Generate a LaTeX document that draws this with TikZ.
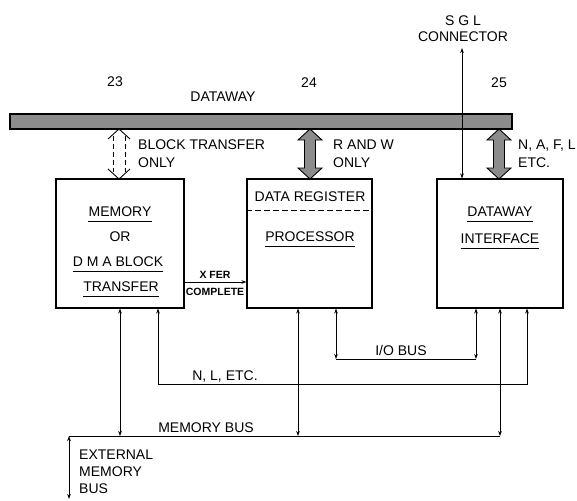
\documentclass[tikz,border=0pt]{standalone}
\usepackage{fontspec}
\setmainfont{Liberation Sans}
\usetikzlibrary{arrows.meta,calc}
\newcommand\ulnode[1]{\draw[line width=0.8pt] ([yshift=-4.5pt]#1.base west) -- ([yshift=-4.5pt]#1.base east);}
\newcommand\fatarr[2]{\draw[#2] (#1,129) -- ++(12,11) -- ++(-6.5,0) -- ++(0,28) -- ++(6.5,0) -- (#1,179) -- ++(-12,-11) -- ++(6.5,0) -- ++(0,-28) -- ++(-6.5,0) -- cycle;}
\newcommand\dasharr[1]{%
  \draw[line width=0.9pt] (#1-11,139) -- (#1,129) -- (#1+11,139);
  \draw[line width=0.9pt] (#1-11,169) -- (#1,179) -- (#1+11,169);
  \draw[line width=0.9pt, dash pattern=on 5pt off 3pt] (#1-6,136) -- (#1-6,172);
  \draw[line width=0.9pt, dash pattern=on 5pt off 3pt] (#1+6,136) -- (#1+6,172);}
\begin{document}
\begin{tikzpicture}[x=1pt,y=-1pt,
  font=\fontsize{14}{16}\selectfont,
  >={Stealth[length=5pt,width=3.6pt]},
  box/.style={draw, line width=1.1pt, inner sep=0, minimum height=129pt},
  lbl/.style={inner sep=0},
  conn/.style={line width=0.8pt},
  fatfill/.style={draw, line width=0.9pt, fill=black!45}]
\useasboundingbox (0,0) rectangle (577,500);

% dataway bar
\node[draw, line width=1.4pt, fill=black!45, minimum width=502pt, minimum height=15pt, inner sep=0] (bar) at (261,121.5) {};

% boxes
\node[box, minimum width=128pt] (mem) at (120,243.5) {};
\node[box, minimum width=125pt] (proc) at (309.5,243.5) {};
\node[box, minimum width=126pt] (iface) at (500,243.5) {};

% top labels
\node[lbl] (n23) at (115,82) {23};
\node[lbl] (n24) at (309,83) {24};
\node[lbl] (n25) at (499,83) {25};
\node[lbl] (dw) at (223,97) {DATAWAY};
\node[lbl, align=center] (sgl) at (463,29) {S G L\\CONNECTOR};

% fat arrows
\dasharr{119}
\fatarr{310}{fatfill}
\fatarr{499}{fatfill}
\node[lbl, align=left, anchor=west, font=\fontsize{14}{18}\selectfont] (bt) at (138,154) {BLOCK TRANSFER\\ONLY};
\node[lbl, align=left, anchor=west, font=\fontsize{14}{18}\selectfont] (rw) at (333,154) {R AND W\\ONLY};
\node[lbl, align=left, anchor=west, font=\fontsize{14}{18}\selectfont] (naf) at (518,154) {N, A, F, L\\ETC.};

% SGL connector line
\coordinate (sg) at (462,48);
\draw[conn,<->] (sg) -- (sg |- iface.north);

% memory box text
\node[lbl] (tmem) at (120,212) {MEMORY};
\node[lbl] (tor) at (120,237) {OR};
\node[lbl] (tdma) at (118,262) {D M A BLOCK};
\node[lbl] (ttr) at (121,287) {TRANSFER};
\ulnode{tmem}
\ulnode{tdma}
\ulnode{ttr}

% processor text
\node[lbl] (tdr) at (310,197) {DATA REGISTER};
\draw[conn, dash pattern=on 6pt off 3pt] ([yshift=-32pt]proc.north west) -- ([yshift=-32pt]proc.north east);
\node[lbl] (tpr) at (310,237) {PROCESSOR};
\ulnode{tpr}

% interface text
\node[lbl] (tdw) at (500,212) {DATAWAY};
\node[lbl] (tif) at (500,239) {INTERFACE};
\ulnode{tdw}
\ulnode{tif}

% xfer complete
\draw[conn,->] ([yshift=-38.5pt]mem.east) -- ([yshift=-38.5pt]proc.west);
\node[lbl, font=\bfseries\fontsize{10.5}{12}\selectfont] (xf) at (215,275) {X FER};
\node[lbl, font=\bfseries\fontsize{10.5}{12}\selectfont] (cp) at (215,292) {COMPLETE};

% bottom buses
\coordinate (mb) at (69,436);
\coordinate (nl) at (0,384);
\coordinate (io) at (0,359);
\coordinate (ext) at (69,499);
\coordinate (m1) at (mem.south);
\coordinate (m2) at ([xshift=38pt]mem.south);
\coordinate (p1) at ([xshift=-11.5pt]proc.south);
\coordinate (p2) at ([xshift=26.5pt]proc.south);
\coordinate (i1) at ([xshift=-24pt]iface.south);
\coordinate (i2) at (iface.south);
\coordinate (i3) at ([xshift=27pt]iface.south);

\draw[conn,<->] (m1) -- (m1 |- mb);
\draw[conn,<->] (p1) -- (p1 |- mb);
\draw[conn,<->] (i2) -- (i2 |- mb);
\draw[conn] (mb) -- (i2 |- mb);
\draw[conn,<->] (mb) -- (ext);
\draw[conn,<->] (m2) -- (m2 |- nl) -- (i3 |- nl) -- (i3);
\draw[conn,<->] (p2) -- (p2 |- io);
\draw[conn] (p2 |- io) -- (i1 |- io);
\draw[conn,<->] (i1 |- io) -- (i1);

\node[lbl] (tio) at (401,350) {I/O BUS};
\node[lbl] (tnl) at (225,377) {N, L, ETC.};
\node[lbl] (tmb) at (206,428) {MEMORY BUS};
\node[lbl, align=left, anchor=west, font=\fontsize{14}{17}\selectfont] (text) at (79,472) {EXTERNAL\\MEMORY\\BUS};
\end{tikzpicture}
\end{document}
